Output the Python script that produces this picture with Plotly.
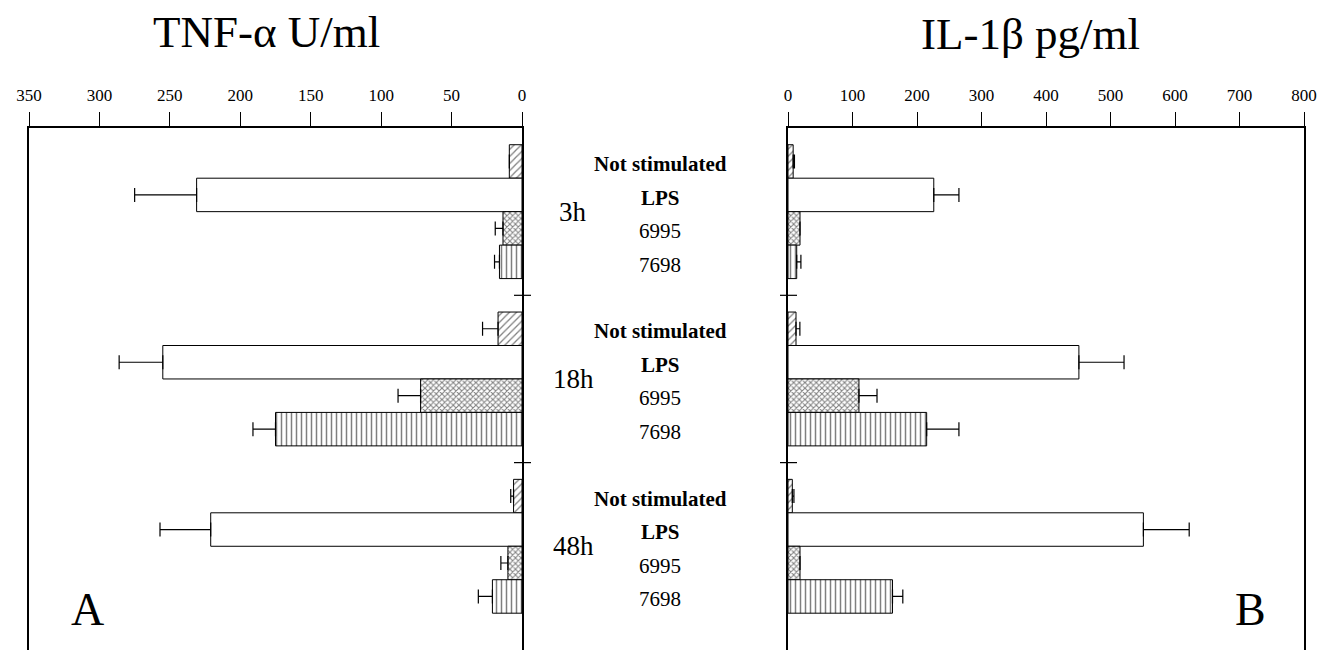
import plotly.graph_objects as go

# ---------------- data ----------------
groups = ["3h", "18h", "48h"]
treatments = ["Not stimulated", "LPS", "6995", "7698"]

tnf_ns = [9, 17, 6]
tnf_lps = [231, 255, 221]
tnf_6995 = [13.5, 72, 10]
tnf_7698 = [16, 175, 21]
tnf_ns_err = [None, 11, 2]
tnf_lps_err = [44, 31, 36]
tnf_6995_err = [5.5, 16, 5]
tnf_7698_err = [3.5, 16, 10]

il1_ns = [8, 12.4, 6.7]
il1_lps = [226, 451, 551]
il1_6995 = [18.6, 110, 18.6]
il1_7698 = [13.5, 215, 162]
il1_ns_err = [2, 6, 2.5]
il1_lps_err = [39, 70, 71]
il1_6995_err = [None, 28, None]
il1_7698_err = [6.5, 50, 16]

tnf_ticks = [0, 50, 100, 150, 200, 250, 300, 350]
il1_ticks = [0, 100, 200, 300, 400, 500, 600, 700, 800]

# ---------------- styling ----------------
W, H = 1317, 657
FONT = "Liberation Serif"
patterns = {
    "Not stimulated": dict(shape="/", size=5, solidity=0.25, fgcolor="black", bgcolor="white", fillmode="overlay"),
    "LPS": dict(shape="", fgcolor="black", bgcolor="white"),
    "6995": dict(shape="x", size=4, solidity=0.45, fgcolor="black", bgcolor="white", fillmode="overlay"),
    "7698": dict(shape="|", size=5, solidity=0.3, fgcolor="black", bgcolor="white", fillmode="overlay"),
}

tnf = {"Not stimulated": (tnf_ns, tnf_ns_err), "LPS": (tnf_lps, tnf_lps_err),
       "6995": (tnf_6995, tnf_6995_err), "7698": (tnf_7698, tnf_7698_err)}
il1 = {"Not stimulated": (il1_ns, il1_ns_err), "LPS": (il1_lps, il1_lps_err),
       "6995": (il1_6995, il1_6995_err), "7698": (il1_7698, il1_7698_err)}

SLOT = 5  # 4 bars + 1 gap per group

fig = go.Figure()
for panel, (data, xa, ya) in enumerate([(tnf, "x", "y"), (il1, "x2", "y2")]):
    for i, t in enumerate(treatments):
        vals, errs = data[t]
        ys = [g * SLOT + i for g in range(len(groups))]
        minus = [0 if e is not None else None for e in errs]
        fig.add_trace(go.Bar(
            y=ys, x=vals, orientation="h", xaxis=xa, yaxis=ya, width=1,
            marker=dict(color="white", line=dict(color="black", width=1), pattern=patterns[t]),
            error_x=dict(type="data", symmetric=False, array=errs, arrayminus=minus,
                         color="black", thickness=1.2, width=7),
            showlegend=False, name=t,
        ))

x_left_dom = [29 / W, 522 / W]
x_right_dom = [788 / W, 1304 / W]
y_dom = [1 - 650 / H, 1 - 128 / H]
yrange = [14.6, -1.0]

axis_common = dict(side="top", ticks="outside", ticklen=14, tickcolor="black", tickwidth=1.2,
                   showline=True, linecolor="black", linewidth=1.5, showgrid=False, zeroline=False,
                   automargin=False, ticklabelstandoff=4,
                   tickfont=dict(family=FONT, size=17, color="black"))
yaxis_common = dict(range=yrange, showline=True, mirror=True, linecolor="black", linewidth=1.5,
                    showticklabels=False, ticks="", showgrid=False, zeroline=False, automargin=False)

fig.update_layout(
    width=W, height=H, margin=dict(l=0, r=0, t=0, b=0, autoexpand=False),
    paper_bgcolor="white", plot_bgcolor="white", barmode="overlay",
    xaxis=dict(domain=x_left_dom, range=[350, 0], tickvals=tnf_ticks, anchor="y", **axis_common),
    yaxis=dict(domain=y_dom, anchor="x", **yaxis_common),
    xaxis2=dict(domain=x_right_dom, range=[0, 800], tickvals=il1_ticks, anchor="y2", **axis_common),
    yaxis2=dict(domain=y_dom, anchor="x2", **yaxis_common),
)

# group separators on the zero lines
shapes = []
for g in range(1, len(groups)):
    yv = g * SLOT - 1
    for xc in (522, 788):
        shapes.append(dict(type="line", xref="paper", yref="y", x0=(xc - 8) / W, x1=(xc + 9) / W,
                           y0=yv, y1=yv, line=dict(color="black", width=1.2)))
fig.update_layout(shapes=shapes)

ann = []
for g, gname in enumerate(groups):
    for i, t in enumerate(treatments):
        bold = t in ("Not stimulated", "LPS")
        ann.append(dict(xref="paper", yref="y", x=660 / W, y=g * SLOT + i + 0.08,
                        text=f"<b>{t}</b>" if bold else t, showarrow=False,
                        xanchor="center", yanchor="middle",
                        font=dict(family=FONT, size=21, color="black")))
    ann.append(dict(xref="paper", yref="y", x=573 / W, y=g * SLOT + 1.5,
                    text=gname, showarrow=False, xanchor="center", yanchor="middle",
                    font=dict(family=FONT, size=27, color="black")))

ann.append(dict(xref="paper", yref="paper", x=266 / W, y=1 - 32 / H, text="TNF-α U/ml",
                showarrow=False, xanchor="center", yanchor="middle",
                font=dict(family=FONT, size=45, color="black")))
ann.append(dict(xref="paper", yref="paper", x=1030 / W, y=1 - 34 / H, text="IL-1β pg/ml",
                showarrow=False, xanchor="center", yanchor="middle",
                font=dict(family=FONT, size=45, color="black")))
ann.append(dict(xref="paper", yref="paper", x=87 / W, y=1 - 609 / H, text="A",
                showarrow=False, xanchor="center", yanchor="middle",
                font=dict(family=FONT, size=46, color="black")))
ann.append(dict(xref="paper", yref="paper", x=1250 / W, y=1 - 609 / H, text="B",
                showarrow=False, xanchor="center", yanchor="middle",
                font=dict(family=FONT, size=46, color="black")))
fig.update_layout(annotations=ann)

fig.write_html("out.html", config={"displayModeBar": False},
               post_script="document.body.style.margin='0';document.body.style.overflow='hidden';")
